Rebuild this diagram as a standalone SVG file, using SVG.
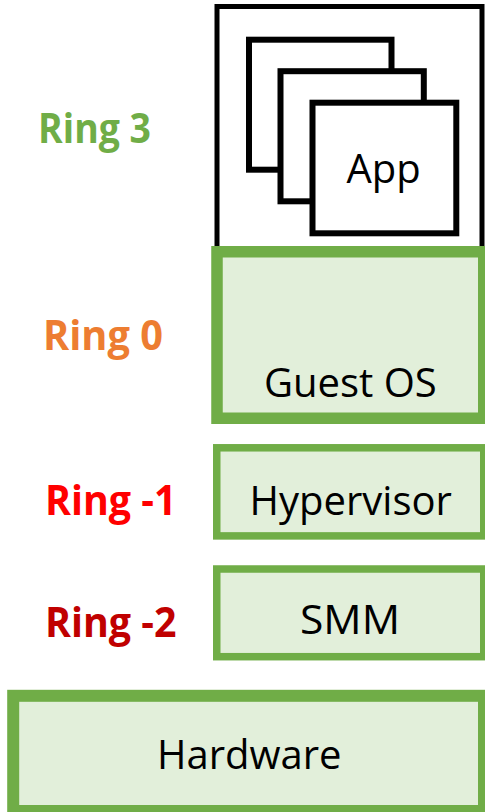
<svg xmlns="http://www.w3.org/2000/svg" width="485" height="812" viewBox="0 0 485 812">
  <style>
    .layer { fill: #E2EFDA; stroke: #70AD47; }
    .app { fill: #FFFFFF; stroke: #000000; stroke-width: 6; }
    .label { font-family: "Open Sans", "Noto Sans", "Liberation Sans", sans-serif; font-size: 40px; fill: #000000; text-anchor: middle; }
    .ring { font-family: "Open Sans", "Noto Sans", "Liberation Sans", sans-serif; font-size: 42px; font-weight: bold; }
  </style>
  <rect width="485" height="812" fill="#FFFFFF"/>

  <!-- user space container with stacked applications -->
  <g id="userspace">
    <rect x="217" y="6.5" width="265" height="245" fill="#FFFFFF" stroke="#000000" stroke-width="5"/>
    <rect class="app" x="249" y="39.7" width="142.5" height="130"/>
    <rect class="app" x="280.5" y="71.2" width="143.3" height="130.1"/>
    <rect class="app" x="312.5" y="102.7" width="143.8" height="130.6"/>
    <text class="label" x="383.5" y="183.3">App</text>
  </g>

  <g id="guest-os">
    <rect class="layer" x="217" y="251.75" width="266.75" height="166.5" stroke-width="11.5"/>
    <text class="label" x="350.3" y="396.7">Guest OS</text>
  </g>

  <g id="hypervisor">
    <rect class="layer" x="216.75" y="447.8" width="267" height="88.1" stroke-width="7.5"/>
    <text class="label" x="350.7" y="515">Hypervisor</text>
  </g>

  <g id="smm">
    <rect class="layer" x="216.75" y="569" width="267" height="87.7" stroke-width="7.5"/>
    <text class="label" x="350" y="634" textLength="100" lengthAdjust="spacingAndGlyphs">SMM</text>
  </g>

  <g id="hardware">
    <rect class="layer" x="13.2" y="695.8" width="470.8" height="115.2" stroke-width="12"/>
    <text class="label" x="249.2" y="769.3">Hardware</text>
  </g>

  <!-- privilege ring labels -->
  <g id="ring-labels">
    <text class="ring" x="38" y="143.3" fill="#70AD47" textLength="113" lengthAdjust="spacingAndGlyphs">Ring 3</text>
    <text class="ring" x="43" y="350" fill="#ED7D31" textLength="120" lengthAdjust="spacingAndGlyphs">Ring 0</text>
    <text class="ring" x="45" y="515" fill="#FF0000" textLength="131.5" lengthAdjust="spacingAndGlyphs">Ring -1</text>
    <text class="ring" x="45" y="636.7" fill="#C00000" textLength="131.5" lengthAdjust="spacingAndGlyphs">Ring -2</text>
  </g>
</svg>
